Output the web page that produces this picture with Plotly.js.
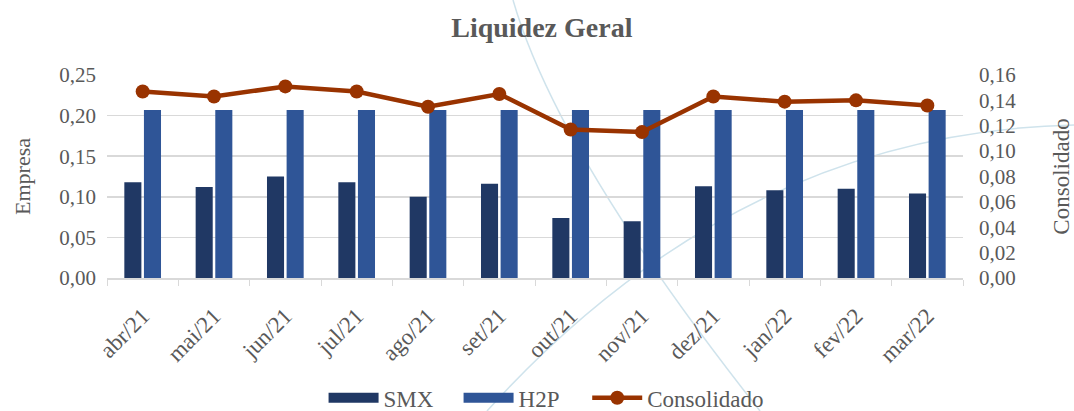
<!DOCTYPE html>
<html>
<head>
<meta charset="utf-8">
<script src="https://cdn.plot.ly/plotly-3.0.1.min.js"></script>
<style>html,body{margin:0;padding:0;background:#fff;}#chart{width:1074px;height:411px;}</style>
</head>
<body>
<div id="chart"></div>
<script>
const categories = ["abr/21","mai/21","jun/21","jul/21","ago/21","set/21","out/21","nov/21","dez/21","jan/22","fev/22","mar/22"];
const smx = [0.118,0.112,0.125,0.118,0.100,0.116,0.074,0.070,0.113,0.108,0.110,0.104];
const h2p = [0.207,0.207,0.207,0.207,0.207,0.207,0.207,0.207,0.207,0.207,0.207,0.207];
const consolidado = [0.147,0.143,0.151,0.147,0.135,0.145,0.117,0.115,0.143,0.139,0.140,0.136];

const W = 1074, H = 411;
const M = {l:107, r:111, t:75, b:133, autoexpand:false};
const pw = W - M.l - M.r, ph = H - M.t - M.b;
function px(x){ return ((x - M.l)/pw).toFixed(4); }
function py(y){ return ((H - M.b - y)/ph).toFixed(4); }
function qpath(p0, c, p1){
  return `M ${px(p0[0])},${py(p0[1])} Q ${px(c[0])},${py(c[1])} ${px(p1[0])},${py(p1[1])}`;
}

const font = "Liberation Serif, Times New Roman, serif";
const grey = "#595959";
const cSMX = '#203864', cH2P = '#2F5597', cCons = '#993300';

const traces = [
  {type:'bar', name:'SMX', x:categories, y:smx, marker:{color:cSMX}, showlegend:false, legendgroup:'smx'},
  {type:'bar', name:'H2P', x:categories, y:h2p, marker:{color:cH2P}, showlegend:false, legendgroup:'h2p'},
  {type:'scatter', mode:'lines', name:'SMX', x:[null], y:[null], line:{color:cSMX, width:16}, legendgroup:'smx', hoverinfo:'skip'},
  {type:'scatter', mode:'lines', name:'H2P', x:[null], y:[null], line:{color:cH2P, width:16}, legendgroup:'h2p', hoverinfo:'skip'},
  {type:'scatter', mode:'lines+markers', name:'Consolidado', x:categories, y:consolidado, yaxis:'y2', legend:'legend2',
   line:{color:cCons, width:4.5}, marker:{color:cCons, size:14}}
];

const layout = {
  width:W, height:H,
  margin:M,
  paper_bgcolor:'#ffffff', plot_bgcolor:'rgba(0,0,0,0)',
  separators:',.',
  font:{family:font, color:grey, size:21},
  title:{text:'<b>Liquidez Geral</b>', x:0.508, xref:'paper', xanchor:'center', y:0.935, yanchor:'middle',
         font:{family:font, size:28, color:grey}},
  barmode:'group', bargap:0.45, bargroupgap:0.13,
  xaxis:{type:'category', range:[-0.5, 11.5], autorange:false, tickangle:-45, ticks:'outside', tickson:'boundaries',
         ticklen:6, tickcolor:'#d9d9d9',
         showline:true, linecolor:'#d9d9d9', linewidth:1.5, showgrid:false, automargin:false,
         ticklabelstandoff:14, tickfont:{size:23, color:grey}},
  yaxis:{range:[0,0.25], dtick:0.05, tickformat:'.2f', showgrid:true, gridcolor:'#d9d9d9', gridwidth:1.5,
         zeroline:false, showline:false, ticks:'', ticklabelstandoff:10, automargin:false,
         title:{text:'Empresa', font:{size:22, color:grey}, standoff:22}, tickfont:{size:21, color:grey}},
  yaxis2:{overlaying:'y', side:'right', range:[0,0.16], dtick:0.02, tickformat:'.2f', showgrid:false, zeroline:false,
          ticks:'', ticklabelstandoff:15, automargin:false,
          title:{text:'Consolidado', font:{size:23, color:grey}, standoff:38}, tickfont:{size:21, color:grey}},
  legend:{orientation:'h', x:0.253, xanchor:'left', y:-0.59, yanchor:'middle', font:{size:23, color:grey},
          itemwidth:50, entrywidth:70, entrywidthmode:'pixels', traceorder:'normal', bgcolor:'rgba(0,0,0,0)'},
  legend2:{orientation:'h', x:0.561, xanchor:'left', y:-0.59, yanchor:'middle', font:{size:23, color:grey},
          itemwidth:50, bgcolor:'rgba(0,0,0,0)'},
  shapes:[
    {type:'path', xref:'paper', yref:'paper', layer:'below', path:qpath([513,0],[557.5,154.5],[760,411]),
     line:{color:'#cfe3ec', width:1.5}},
    {type:'path', xref:'paper', yref:'paper', layer:'below', path:qpath([487,411],[739.5,132],[1074,125]),
     line:{color:'#cfe3ec', width:1.5}}
  ],
  showlegend:true
};

Plotly.newPlot('chart', traces, layout, {displayModeBar:false, staticPlot:true});
</script>
</body>
</html>
